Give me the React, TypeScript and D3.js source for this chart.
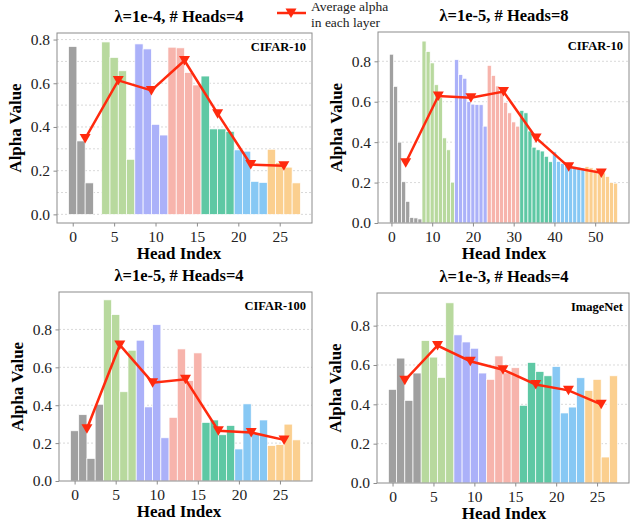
import React, { useRef, useEffect } from "react";
import * as d3 from "d3";

// one colour per transformer layer
const layerColors = ["#a0a0a0", "#b8d99e", "#abb1f9", "#f7b4ac", "#5ec8a4", "#87c8f4", "#fbcf8f"];
const lineColor = "#ff2a0e";
const serif = "'Liberation Serif', 'Times New Roman', serif";

// λ=1e-4, 4 heads, CIFAR-10
const alphaA = [0.768, 0.336, 0.144, 0, 0.789, 0.718, 0.657, 0.252, 0.78, 0.757, 0.412, 0.363, 0.765, 0.762, 0.649, 0.592, 0.633, 0.391, 0.391, 0.38, 0.295, 0.289, 0.151, 0.146, 0.298, 0.237, 0.216, 0.144];
const meanA = [0.347, 0.613, 0.567, 0.704, 0.461, 0.228, 0.222];

// λ=1e-5, 8 heads, CIFAR-10
const alphaB = [
  0.835, 0.676, 0.4, 0.204, 0.107, 0.027, 0.025, 0.02,
  0.9, 0.848, 0.792, 0.684, 0.62, 0.421, 0.362, 0.202,
  0.808, 0.734, 0.716, 0.6, 0.588, 0.586, 0.585, 0.479,
  0.78, 0.73, 0.678, 0.655, 0.597, 0.545, 0.5, 0.479,
  0.557, 0.545, 0.455, 0.375, 0.362, 0.356, 0.33, 0.303,
  0.352, 0.305, 0.295, 0.29, 0.282, 0.279, 0.276, 0.272,
  0.279, 0.273, 0.266, 0.258, 0.248, 0.23, 0.2, 0.197,
];
const meanB = [0.298, 0.628, 0.62, 0.65, 0.421, 0.278, 0.248];

// λ=1e-5, 4 heads, CIFAR-100
const alphaC = [0.265, 0.35, 0.119, 0.405, 0.956, 0.878, 0.471, 0.69, 0.743, 0.391, 0.825, 0.228, 0.336, 0.697, 0.53, 0.676, 0.309, 0.322, 0.244, 0.293, 0.169, 0.407, 0.25, 0.322, 0.187, 0.192, 0.3, 0.217];
const meanC = [0.276, 0.718, 0.519, 0.537, 0.265, 0.256, 0.217];

// λ=1e-3, 4 heads, ImageNet
const alphaD = [0.476, 0.635, 0.42, 0.559, 0.724, 0.64, 0.537, 0.916, 0.753, 0.717, 0.685, 0.559, 0.527, 0.646, 0.56, 0.586, 0.395, 0.613, 0.567, 0.545, 0.592, 0.356, 0.386, 0.535, 0.471, 0.527, 0.132, 0.545];
const meanD = [0.522, 0.699, 0.619, 0.576, 0.501, 0.471, 0.4];

const ticks28 = [0, 5, 10, 15, 20, 25];
const ticks56 = [0, 10, 20, 30, 40, 50];
const yTicks = [0, 0.2, 0.4, 0.6, 0.8];
const legendLines = ["Average alpha", "in each layer"];

const panels = [
  { title: "λ=1e-4, # Heads=4", dataset: "CIFAR-10", values: alphaA, means: meanA, heads: 4,
    box: { x0: 57, x1: 312, y0: 33, y1: 223 }, cx: 179, xDomain: [-1.9, 28.9], yDomain: [-0.0395, 0.83],
    xTicks: ticks28, grid: [0, 0.1, 0.2, 0.3, 0.4, 0.5, 0.6, 0.7, 0.8] },
  { title: "λ=1e-5, # Heads=8", dataset: "CIFAR-10", values: alphaB, means: meanB, heads: 8,
    box: { x0: 378, x1: 629, y0: 32, y1: 223 }, cx: 504, xDomain: [-3.3, 58.3], yDomain: [0, 0.945],
    xTicks: ticks56, grid: [0.2, 0.4, 0.6, 0.8] },
  { title: "λ=1e-5, # Heads=4", dataset: "CIFAR-100", values: alphaC, means: meanC, heads: 4,
    box: { x0: 59, x1: 312, y0: 292, y1: 481 }, cx: 179, xDomain: [-1.9, 28.9], yDomain: [0, 0.9975],
    xTicks: ticks28, grid: [0.2, 0.4, 0.6, 0.8] },
  { title: "λ=1e-3, # Heads=4", dataset: "ImageNet", values: alphaD, means: meanD, heads: 4,
    box: { x0: 377, x1: 629, y0: 293, y1: 483 }, cx: 504, xDomain: [-1.9, 28.9], yDomain: [0, 0.966],
    xTicks: ticks28, grid: [0.2, 0.4, 0.6, 0.8] },
];

const triangle = "M-5.5,-4.5L5.5,-4.5L0,5Z";

function drawPanel(svg, p) {
  const { x0, x1, y0, y1 } = p.box;
  const x = d3.scaleLinear().domain(p.xDomain).range([x0, x1]);
  const y = d3.scaleLinear().domain(p.yDomain).range([y1, y0]);
  const g = svg.append("g");

  // grid
  g.selectAll("line.grid")
    .data(p.grid)
    .join("line")
    .attr("x1", x0).attr("x2", x1)
    .attr("y1", d => y(d)).attr("y2", d => y(d))
    .attr("stroke", "#c8c8c8")
    .attr("stroke-width", 0.7)
    .attr("stroke-dasharray", "2,2");

  // bars
  const bw = x(1) - x(0);
  g.selectAll("rect.bar")
    .data(p.values)
    .join("rect")
    .attr("x", (d, i) => x(i - 0.5))
    .attr("width", bw)
    .attr("y", d => y(d))
    .attr("height", d => Math.max(0, y(0) - y(d)))
    .attr("fill", (d, i) => layerColors[Math.floor(i / p.heads)])
    .attr("stroke", "#fff")
    .attr("stroke-width", 0.7);

  // layer mean line + markers
  const centers = p.means.map((m, i) => [i * p.heads + (p.heads - 1) / 2, m]);
  g.append("path")
    .datum(centers)
    .attr("d", d3.line().x(d => x(d[0])).y(d => y(d[1])))
    .attr("fill", "none")
    .attr("stroke", lineColor)
    .attr("stroke-width", 2.5);
  g.selectAll("path.mk")
    .data(centers)
    .join("path")
    .attr("d", triangle)
    .attr("transform", d => `translate(${x(d[0])},${y(d[1])})`)
    .attr("fill", lineColor);

  // frame
  g.append("rect")
    .attr("x", x0).attr("y", y0)
    .attr("width", x1 - x0).attr("height", y1 - y0)
    .attr("fill", "none")
    .attr("stroke", "#8c8c8c")
    .attr("stroke-width", 1);

  const xa = g.append("g")
    .attr("transform", `translate(0,${y1})`)
    .call(d3.axisBottom(x).tickValues(p.xTicks).tickSize(3.5).tickPadding(4).tickFormat(d3.format("d")));
  const ya = g.append("g")
    .attr("transform", `translate(${x0},0)`)
    .call(d3.axisLeft(y).tickValues(yTicks).tickSize(3.5).tickPadding(3.5).tickFormat(d3.format(".1f")));
  [xa, ya].forEach(a => {
    a.select(".domain").remove();
    a.selectAll("line").attr("stroke", "#8c8c8c");
    a.selectAll("text")
      .attr("fill", "#222")
      .style("font-family", serif)
      .style("font-size", "15.5px");
  });

  // texts
  g.append("text")
    .attr("x", p.cx).attr("y", y0 - 11)
    .attr("text-anchor", "middle")
    .style("font-family", serif).style("font-weight", "bold").style("font-size", "16.5px")
    .text(p.title);
  g.append("text")
    .attr("x", p.cx).attr("y", y1 + 36)
    .attr("text-anchor", "middle")
    .style("font-family", serif).style("font-weight", "bold").style("font-size", "17px")
    .text("Head Index");
  g.append("text")
    .attr("transform", `translate(${x0 - 42},${(y0 + y1) / 2}) rotate(-90)`)
    .attr("text-anchor", "middle")
    .attr("dy", "0.35em")
    .style("font-family", serif).style("font-weight", "bold").style("font-size", "17px")
    .text("Alpha Value");
  g.append("text")
    .attr("x", x1 - 6).attr("y", y0 + 18)
    .attr("text-anchor", "end")
    .style("font-family", serif).style("font-weight", "bold").style("font-size", "12.5px")
    .text(p.dataset);
}

export default function App() {
  const ref = useRef(null);

  useEffect(() => {
    const svg = d3.select(ref.current);
    svg.selectAll("*").remove();
    panels.forEach(p => drawPanel(svg, p));

    // legend
    const lg = svg.append("g");
    lg.append("line")
      .attr("x1", 277).attr("x2", 306).attr("y1", 13).attr("y2", 13)
      .attr("stroke", lineColor).attr("stroke-width", 2.5);
    lg.append("path")
      .attr("d", triangle)
      .attr("transform", "translate(291,13)")
      .attr("fill", lineColor);
    lg.selectAll("text")
      .data(legendLines)
      .join("text")
      .attr("x", 311)
      .attr("y", (d, i) => 11 + i * 15.5)
      .style("font-family", serif)
      .style("font-size", "13.5px")
      .attr("fill", "#222")
      .text(d => d);
  }, []);

  return (
    <svg
      ref={ref}
      width={630}
      height={525}
      style={{ position: "absolute", left: 0, top: 0, background: "#fff" }}
    />
  );
}
